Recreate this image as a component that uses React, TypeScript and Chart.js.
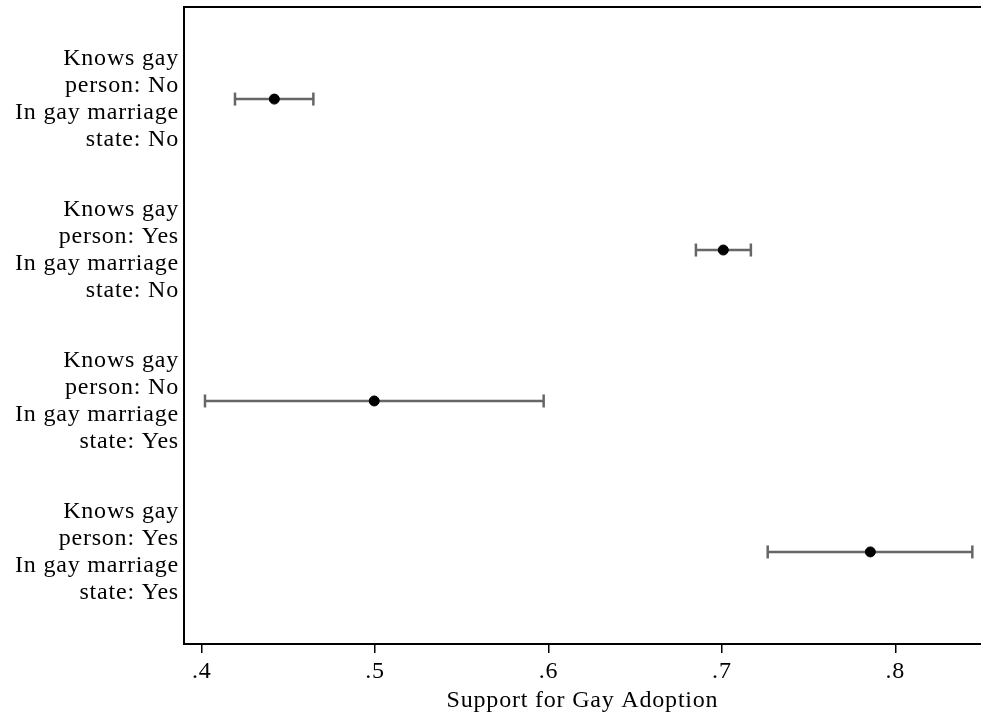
import React, { useEffect, useRef } from "react";
import { Chart, registerables } from "chart.js";

Chart.register(...registerables);

const categories: string[][] = [
  ["Knows gay", "person: No", "In gay marriage", "state: No"],
  ["Knows gay", "person: Yes", "In gay marriage", "state: No"],
  ["Knows gay", "person: No", "In gay marriage", "state: Yes"],
  ["Knows gay", "person: Yes", "In gay marriage", "state: Yes"],
];
const rowPositions = [1, 2, 3, 4];
const estimates = [0.4419, 0.7008, 0.4995, 0.7856];
const lowerCI = [0.4192, 0.685, 0.4019, 0.7264];
const upperCI = [0.4644, 0.7167, 0.5972, 0.8444];
const xTicks = [0.4, 0.5, 0.6, 0.7, 0.8];
const xLabels = [".4", ".5", ".6", ".7", ".8"];
const xTitle = "Support for Gay Adoption";

const FONT = "'Liberation Serif', 'Times New Roman', serif";
const AREA_LEFT = 184;
const AREA_TOP = 7;
const AREA_BOTTOM = 644;

export default function App() {
  const ref = useRef<HTMLCanvasElement | null>(null);
  useEffect(() => {
    document.body.style.margin = "0";
    const canvas = ref.current;
    if (!canvas) return;

    const boxPlugin = {
      id: "boxPlugin",
      afterLayout(chart: any) {
        const ca = chart.chartArea;
        ca.left = AREA_LEFT;
        ca.top = AREA_TOP;
        ca.right = chart.width;
        ca.bottom = AREA_BOTTOM;
        ca.width = ca.right - ca.left;
        ca.height = ca.bottom - ca.top;
        const xs = chart.scales.x;
        xs.left = ca.left;
        xs.right = ca.right;
        xs.width = ca.width;
        xs.top = ca.bottom;
        xs.bottom = chart.height;
        xs.height = xs.bottom - xs.top;
        xs.configure();
        const ys = chart.scales.y;
        ys.top = ca.top;
        ys.bottom = ca.bottom;
        ys.height = ca.height;
        ys.left = 0;
        ys.right = ca.left;
        ys.width = ca.left;
        ys.configure();
      },
      beforeDraw(chart: any) {
        (chart.ctx as any).letterSpacing = "0.8px";
      },
      afterDraw(chart: any) {
        const { ctx, chartArea } = chart;
        ctx.save();
        ctx.strokeStyle = "#000";
        ctx.lineWidth = 2;
        ctx.beginPath();
        ctx.moveTo(chart.width + 2, chartArea.top);
        ctx.lineTo(chartArea.left, chartArea.top);
        ctx.lineTo(chartArea.left, chartArea.bottom);
        ctx.lineTo(chart.width + 2, chartArea.bottom);
        ctx.stroke();
        ctx.restore();
      },
    };

    const errorSets = rowPositions.map((pos, i) => ({
      type: "line" as const,
      data: [
        { x: lowerCI[i], y: pos },
        { x: upperCI[i], y: pos },
      ],
      borderColor: "#666666",
      borderWidth: 2.5,
      pointStyle: "line" as const,
      rotation: 90,
      pointRadius: 6.5,
      pointBorderColor: "#666666",
      pointBorderWidth: 2.5,
      pointHoverRadius: 6.5,
      fill: false,
    }));

    const chart = new Chart(canvas, {
      type: "scatter",
      data: {
        datasets: [
          {
            type: "scatter",
            data: rowPositions.map((pos, i) => ({ x: estimates[i], y: pos })),
            backgroundColor: "#000",
            borderColor: "#000",
            pointRadius: 5,
            pointHoverRadius: 5,
          } as any,
          ...errorSets,
        ],
      },
      options: {
        animation: false,
        responsive: true,
        maintainAspectRatio: false,
        layout: { padding: { top: 7, right: 0, left: 0, bottom: 0 } },
        plugins: {
          legend: { display: false },
          tooltip: { enabled: false },
        },
        scales: {
          x: {
            type: "linear",
            min: 0.3898,
            max: 0.8494,
            afterBuildTicks: (scale: any) => {
              scale.ticks = xTicks.map((v) => ({ value: v }));
            },
            afterFit: (scale: any) => {
              scale.height = 77;
              scale.paddingLeft = 0;
              scale.paddingRight = 0;
            },
            ticks: {
              callback: (v: any) => {
                const idx = xTicks.findIndex((t) => Math.abs(t - Number(v)) < 1e-9);
                return idx >= 0 ? xLabels[idx] : "";
              },
              color: "#000",
              font: { family: FONT, size: 24 },
              padding: 4,
              maxRotation: 0,
              autoSkip: false,
            },
            grid: {
              display: true,
              drawOnChartArea: false,
              drawTicks: true,
              tickLength: 9,
              color: "#000",
              lineWidth: 1.5,
            },
            border: { display: false },
            title: {
              display: true,
              text: xTitle,
              color: "#000",
              font: { family: FONT, size: 24 },
              padding: { top: 0, bottom: 6 },
            },
          },
          y: {
            type: "linear",
            min: 0.39,
            max: 4.61,
            reverse: true,
            afterBuildTicks: (scale: any) => {
              scale.ticks = rowPositions.map((v) => ({ value: v }));
            },
            afterFit: (scale: any) => {
              scale.width = 184;
              scale.paddingTop = 0;
              scale.paddingBottom = 0;
            },
            ticks: {
              callback: (v: any) => {
                const idx = rowPositions.indexOf(Number(v));
                return idx >= 0 ? categories[idx] : "";
              },
              color: "#000",
              font: { family: FONT, size: 24, lineHeight: 27 / 24 },
              padding: 5,
              autoSkip: false,
            },
            grid: { display: false, drawTicks: false },
            border: { display: false },
          },
        },
      } as any,
      plugins: [boxPlugin],
    });
    return () => chart.destroy();
  }, []);

  return (
    <div style={{ width: 981, height: 721, position: "relative", background: "#fff" }}>
      <canvas ref={ref} />
    </div>
  );
}
